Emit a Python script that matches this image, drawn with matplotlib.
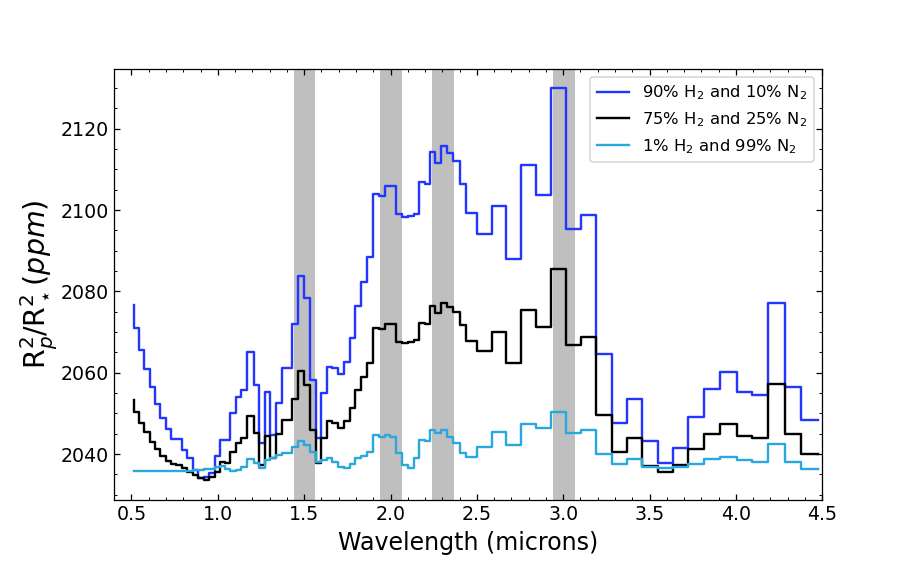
import numpy as np
import matplotlib.pyplot as plt
from matplotlib.ticker import MultipleLocator

# wavelength grid (microns), values are drawn as steps ending at each point
wavelength = [0.512, 0.543, 0.574, 0.605, 0.636, 0.667, 0.698, 0.729, 0.760, 0.791,
              0.822, 0.854, 0.886, 0.918, 0.949, 0.981, 1.011, 1.042, 1.073, 1.107,
              1.137, 1.170, 1.207, 1.240, 1.271, 1.304, 1.336, 1.370, 1.400, 1.432,
              1.465, 1.499, 1.533, 1.567, 1.600, 1.631, 1.664, 1.696, 1.728, 1.764,
              1.795, 1.828, 1.863, 1.896, 1.933, 1.966, 1.997, 2.031, 2.066, 2.099,
              2.134, 2.167, 2.197, 2.229, 2.260, 2.294, 2.327, 2.363, 2.400, 2.439,
              2.500, 2.586, 2.670, 2.757, 2.844, 2.931, 3.014, 3.101, 3.192, 3.280,
              3.367, 3.458, 3.547, 3.638, 3.725, 3.818, 3.908, 4.005, 4.096, 4.185,
              4.282, 4.377, 4.476]

# transit depth (ppm) for the three atmospheres
h2_90 = [2076.6, 2070.9, 2065.6, 2060.9, 2056.4, 2052.4, 2048.9, 2046.2, 2043.6, 2043.6,
         2041.0, 2038.9, 2036.1, 2034.0, 2034.3, 2035.4, 2039.5, 2043.4, 2043.4, 2050.0,
         2054.0, 2055.8, 2065.2, 2057.0, 2042.6, 2055.3, 2044.7, 2052.5, 2061.1, 2061.1,
         2071.9, 2083.9, 2078.3, 2058.1, 2043.9, 2054.9, 2061.5, 2061.1, 2059.7, 2062.7,
         2068.5, 2076.3, 2082.4, 2088.4, 2104.0, 2103.5, 2106.0, 2106.0, 2099.1, 2098.3,
         2098.6, 2099.1, 2107.0, 2106.5, 2114.2, 2111.6, 2115.8, 2114.0, 2112.0, 2106.5,
         2099.3, 2094.2, 2101.0, 2088.0, 2111.1, 2103.8, 2130.0, 2095.3, 2098.7, 2064.5,
         2047.7, 2053.5, 2043.3, 2037.9, 2041.6, 2049.0, 2055.9, 2060.1, 2055.2, 2054.4,
         2077.1, 2056.6, 2048.4]

h2_75 = [2053.4, 2050.3, 2047.7, 2045.3, 2043.0, 2041.2, 2039.6, 2038.4, 2037.5, 2037.3,
         2036.5, 2035.6, 2034.8, 2034.0, 2033.6, 2034.4, 2035.6, 2038.1, 2037.7, 2040.6,
         2042.6, 2043.9, 2049.4, 2045.1, 2037.3, 2044.4, 2038.9, 2044.8, 2048.4, 2048.4,
         2053.5, 2060.3, 2057.0, 2045.9, 2037.8, 2043.9, 2048.0, 2047.6, 2046.3, 2048.0,
         2051.2, 2055.8, 2059.0, 2062.3, 2070.9, 2070.7, 2072.0, 2072.0, 2067.6, 2067.2,
         2067.6, 2068.1, 2072.3, 2072.0, 2076.4, 2074.6, 2077.1, 2076.1, 2074.9, 2071.8,
         2067.9, 2065.4, 2069.9, 2062.3, 2075.3, 2071.3, 2085.5, 2066.8, 2068.7, 2049.6,
         2040.6, 2043.9, 2037.0, 2035.5, 2037.3, 2041.2, 2044.9, 2047.4, 2044.5, 2044.0,
         2057.2, 2044.9, 2040.0]

h2_01 = [2035.7, 2035.7, 2035.7, 2035.7, 2035.7, 2035.7, 2035.7, 2035.7, 2035.7, 2035.8,
         2035.9, 2035.9, 2036.1, 2036.1, 2036.2, 2036.4, 2036.7, 2037.0, 2036.2, 2035.8,
         2036.1, 2036.9, 2038.7, 2037.9, 2036.5, 2038.5, 2038.9, 2039.8, 2040.3, 2040.3,
         2041.8, 2043.1, 2042.3, 2040.6, 2038.0, 2038.5, 2038.9, 2038.0, 2036.8, 2036.5,
         2037.5, 2038.9, 2039.6, 2040.6, 2044.7, 2044.3, 2044.7, 2044.1, 2040.2, 2037.3,
         2036.5, 2039.0, 2043.4, 2043.3, 2045.9, 2045.2, 2045.8, 2044.3, 2042.7, 2040.2,
         2039.2, 2041.8, 2045.5, 2042.1, 2047.4, 2046.3, 2050.4, 2045.2, 2045.9, 2039.9,
         2037.5, 2038.7, 2036.7, 2036.5, 2036.7, 2037.5, 2038.7, 2039.3, 2038.5, 2038.1,
         2042.4, 2038.1, 2036.3]

# shaded absorption bands (microns)
band_lo = [1.44, 1.94, 2.24, 2.94]
band_hi = [1.565, 2.065, 2.37, 3.07]


def main():
    fig, ax = plt.subplots(figsize=(8, 5), dpi=114.2)
    fig.subplots_adjust(left=0.125, right=0.9, bottom=0.125, top=0.88)

    for lo, hi in zip(band_lo, band_hi):
        ax.axvspan(lo, hi, color='grey', alpha=0.5, lw=0)

    ax.step(wavelength, h2_90, color='#2236ff', lw=1.5, label=r'90% H$_2$ and 10% N$_2$')
    ax.step(wavelength, h2_75, color='black', lw=1.5, label=r'75% H$_2$ and 25% N$_2$')
    ax.step(wavelength, h2_01, color='#2aa7dd', lw=1.5, label=r'1% H$_2$ and 99% N$_2$')

    ax.set_xlim(0.4, 4.5)
    ax.xaxis.set_major_locator(MultipleLocator(0.5))
    ax.xaxis.set_minor_locator(MultipleLocator(0.1))
    ax.yaxis.set_major_locator(MultipleLocator(20))
    ax.yaxis.set_minor_locator(MultipleLocator(5))
    ax.tick_params(which='both', direction='in', top=True, right=True, labelsize=12)

    ax.set_xlabel('Wavelength (microns)', fontsize=15)
    ax.set_ylabel(r'R$^2_p$/R$^2_\star$$(ppm)$', fontsize=18, labelpad=0)
    ax.legend(loc='upper right', fontsize=10.3)

    fig.savefig('out.png', dpi=114.2)


if __name__ == '__main__':
    main()
